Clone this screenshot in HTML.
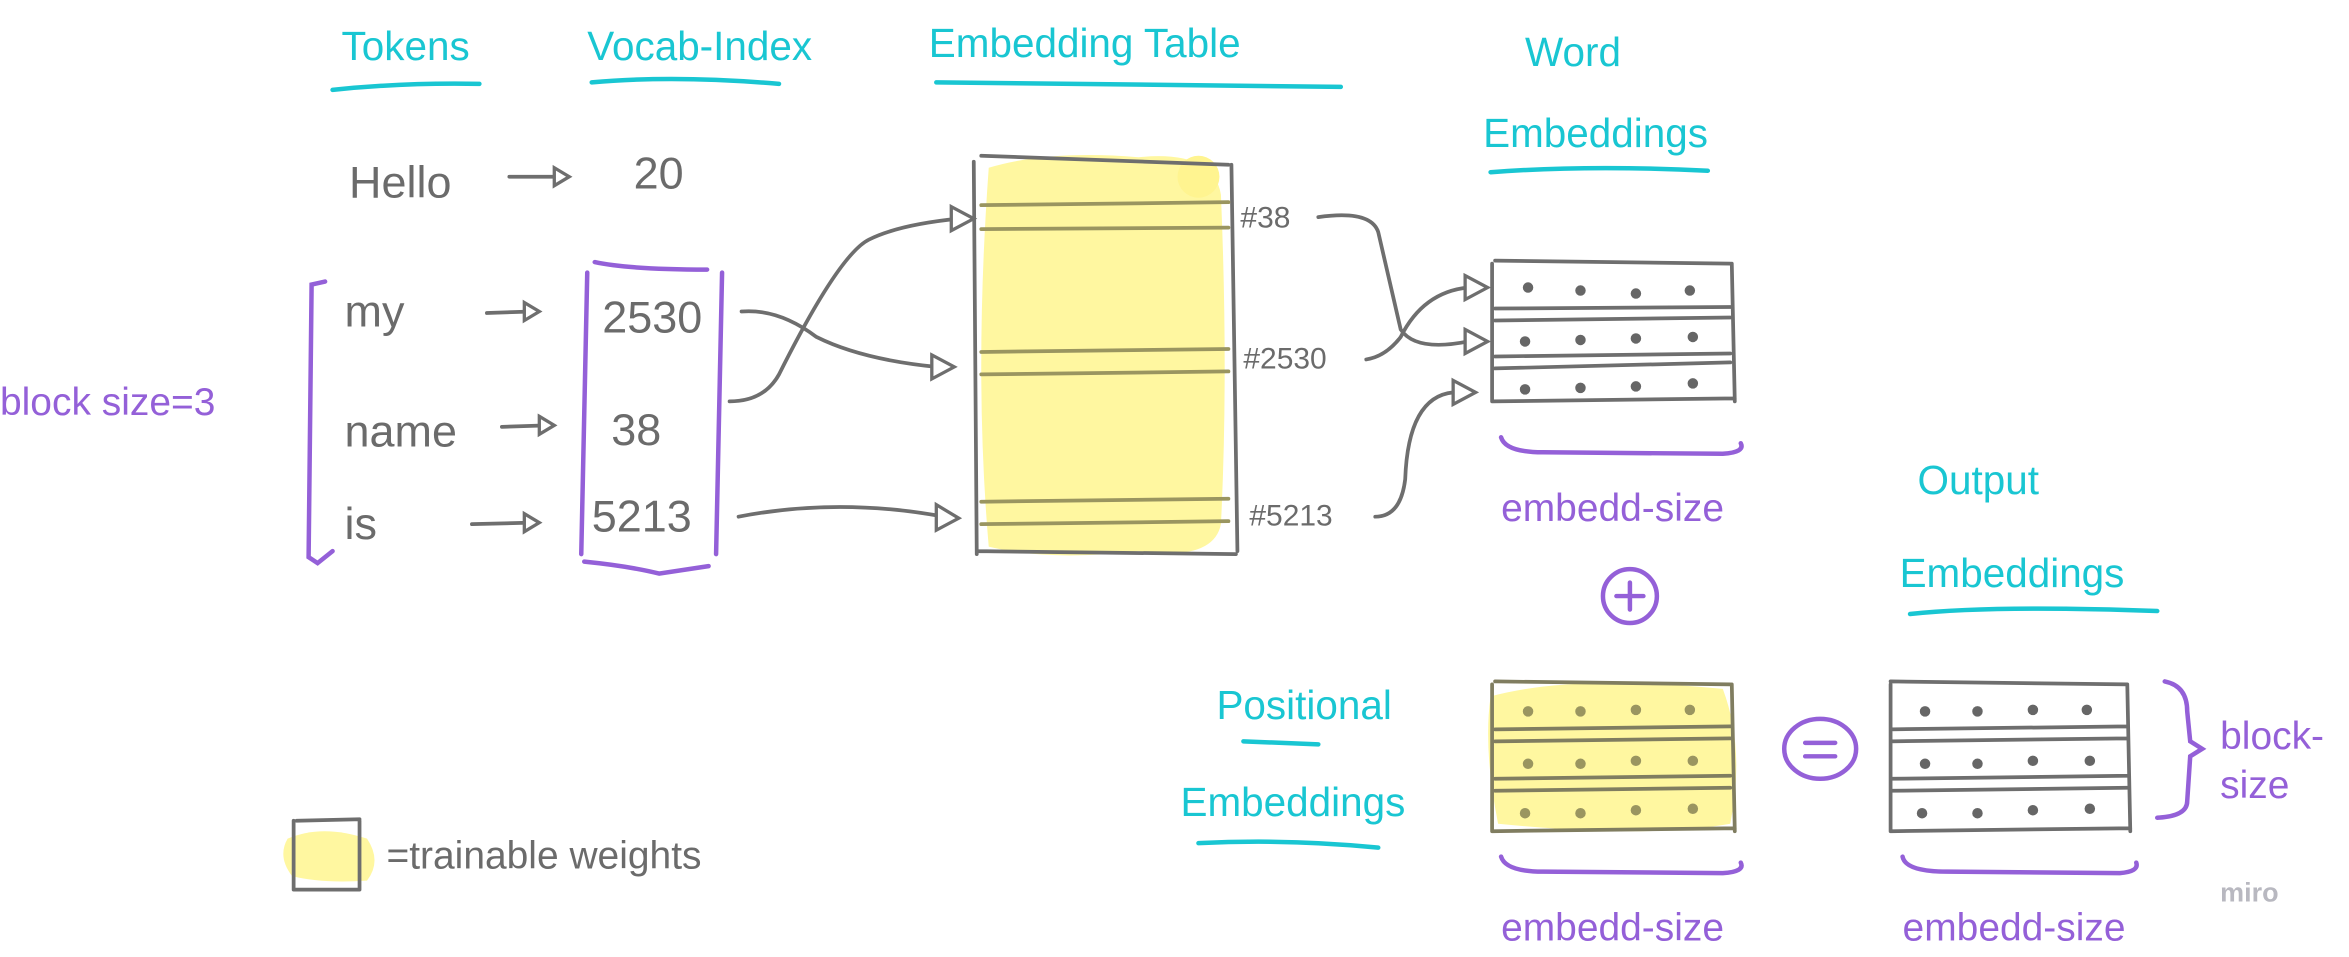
<!DOCTYPE html>
<html><head><meta charset="utf-8">
<style>
html,body{margin:0;padding:0;background:#fff;}
svg{display:block;}
text{font-family:"Liberation Sans",sans-serif;}
.c{fill:#19c6d2;font-size:27px;}
.g{fill:#6b6b6b;font-size:30px;}
.p{fill:#9460d8;font-size:26px;}
.gl{stroke:#6e6e6e;stroke-width:2.5;fill:none;stroke-linecap:round;}
.pl{stroke:#9460d8;stroke-width:3;fill:none;stroke-linecap:round;}
.cl{stroke:#19c6d2;stroke-width:3;fill:none;stroke-linecap:round;}
.y{fill:#fff7a0;}
.ah{fill:#fff;stroke:#6e6e6e;stroke-width:2.2;}
</style></head><body>
<svg width="2349" height="957" viewBox="0 0 1568 639" preserveAspectRatio="none" xmlns="http://www.w3.org/2000/svg">
<!-- headers -->
<text class="c" x="228" y="40">Tokens</text>
<path class="cl" d="M222 60 Q270 55 320 56"/>
<text class="c" x="392" y="40">Vocab-Index</text>
<path class="cl" d="M395 55 Q450 50 520 56"/>
<text class="c" x="620" y="38">Embedding Table</text>
<path class="cl" d="M625 55 L895 58"/>
<text class="c" x="1018" y="44">Word</text>
<text class="c" x="990" y="98">Embeddings</text>
<path class="cl" d="M995 115 Q1060 110 1140 114"/>
<text class="c" x="1280" y="330">Output</text>
<text class="c" x="1268" y="392">Embeddings</text>
<path class="cl" d="M1275 410 Q1330 404 1440 408"/>
<text class="c" x="812" y="480">Positional</text>
<path class="cl" d="M830 495 L880 497"/>
<text class="c" x="788" y="545">Embeddings</text>
<path class="cl" d="M800 563 Q860 560 920 566"/>

<!-- tokens -->
<text class="g" x="233" y="132">Hello</text>
<path class="gl" d="M340 118 L378 118"/><path class="ah" d="M370 112 L380 118 L370 124Z"/>
<text class="g" x="423" y="126">20</text>
<text class="g" x="230" y="218">my</text>
<path class="gl" d="M325 209 L355 208"/><path class="ah" d="M350 202 L360 208 L350 214Z"/>
<text class="g" x="230" y="298">name</text>
<path class="gl" d="M335 285 L365 284"/><path class="ah" d="M360 278 L370 284 L360 290Z"/>
<text class="g" x="230" y="360">is</text>
<path class="gl" d="M315 350 L355 349"/><path class="ah" d="M350 343 L360 349 L350 355Z"/>
<path class="pl" d="M217 188 L208 190 L206 372 L212 376 L222 368"/>
<text class="p" x="0" y="277">block size=3</text>
<!-- vocab bracket -->
<path class="pl" d="M397 175 Q420 180 472 180 M392 182 L388 370 M482 182 L478 370 M390 375 Q420 378 440 383 Q460 380 473 378"/>
<text class="g" x="402" y="222">2530</text>
<text class="g" x="408" y="297">38</text>
<text class="g" x="395" y="355">5213</text>

<!-- embedding table -->
<path class="y" d="M660 112 Q700 100 760 105 Q810 100 815 130 Q820 250 815 350 Q810 375 760 368 Q700 375 660 365 Q650 250 660 112Z"/>
<circle class="y" cx="800" cy="118" r="14" style="fill:#fff490"/>
<path class="gl" d="M655 104 L820 110 M650 108 L652 370 M822 110 L826 368 M652 368 L825 370"/>
<path class="gl" d="M655 137 L820 135 M655 153 L820 152 M655 235 L820 233 M655 250 L820 248 M655 335 L820 333 M655 350 L820 348" style="stroke:#9a9560"/>
<!-- connectors to table -->
<path class="gl" d="M487 268 Q510 268 520 250 Q560 170 580 160 Q600 150 640 146"/><path class="ah" d="M635 138 L650 146 L635 154Z"/>
<path class="gl" d="M495 208 Q520 206 545 225 Q575 240 625 245"/><path class="ah" d="M622 237 L637 245 L622 253Z"/>
<path class="gl" d="M493 345 Q560 332 630 345"/><path class="ah" d="M625 337 L640 346 L625 354Z"/>
<text class="g" x="828" y="152" style="font-size:20px">#38</text>
<text class="g" x="830" y="246" style="font-size:20px">#2530</text>
<text class="g" x="834" y="351" style="font-size:20px">#5213</text>
<!-- to word embedding -->
<path class="gl" d="M880 145 Q915 140 920 155 L935 220 Q945 235 980 228"/><path class="ah" d="M978 220 L993 228 L978 236Z"/>
<path class="gl" d="M912 240 Q925 238 935 225 Q950 195 980 192"/><path class="ah" d="M978 184 L993 192 L978 200Z"/>
<path class="gl" d="M918 345 Q935 345 938 320 Q940 265 970 262"/><path class="ah" d="M970 254 L985 262 L970 270Z"/>

<!-- word embeddings table -->
<path class="gl" d="M998 174 L1155 176 M996 176 L996 268 M1156 176 L1158 268 M996 268 L1158 266 M998 206 L1155 205 M998 214 L1155 212 M998 238 L1155 236 M998 246 L1155 242"/>
<g fill="#666">
<circle cx="1020" cy="192" r="3.5"/><circle cx="1055" cy="194" r="3.5"/><circle cx="1092" cy="196" r="3.5"/><circle cx="1128" cy="194" r="3.5"/>
<circle cx="1018" cy="228" r="3.5"/><circle cx="1055" cy="227" r="3.5"/><circle cx="1092" cy="226" r="3.5"/><circle cx="1130" cy="225" r="3.5"/>
<circle cx="1018" cy="260" r="3.5"/><circle cx="1055" cy="259" r="3.5"/><circle cx="1092" cy="258" r="3.5"/><circle cx="1130" cy="256" r="3.5"/>
</g>
<path class="pl" d="M1002 292 Q1005 302 1030 302 L1150 303 Q1165 302 1162 296"/>
<text class="p" x="1002" y="348">embedd-size</text>
<circle cx="1088" cy="398" r="18" class="pl"/><path class="pl" d="M1088 389 L1088 407 M1079 398 L1097 398"/>

<!-- positional table -->
<path class="y" d="M995 465 Q1050 450 1150 460 Q1165 500 1155 550 Q1100 560 1000 550 Q990 500 995 465Z"/>
<path class="gl" d="M998 455 L1155 457 M996 457 L996 555 M1156 457 L1158 555 M996 555 L1158 553 M998 487 L1155 485 M998 495 L1155 493 M998 520 L1155 518 M998 528 L1155 526" style="stroke:#807d60"/>
<g fill="#9a9560">
<circle cx="1020" cy="475" r="3.5"/><circle cx="1055" cy="475" r="3.5"/><circle cx="1092" cy="474" r="3.5"/><circle cx="1128" cy="474" r="3.5"/>
<circle cx="1020" cy="510" r="3.5"/><circle cx="1055" cy="510" r="3.5"/><circle cx="1092" cy="508" r="3.5"/><circle cx="1130" cy="508" r="3.5"/>
<circle cx="1018" cy="543" r="3.5"/><circle cx="1055" cy="543" r="3.5"/><circle cx="1092" cy="541" r="3.5"/><circle cx="1130" cy="540" r="3.5"/>
</g>
<path class="pl" d="M1002 572 Q1005 582 1030 582 L1150 583 Q1165 582 1162 576"/>
<text class="p" x="1002" y="628">embedd-size</text>
<ellipse cx="1215" cy="500" rx="24" ry="20" class="pl"/><path class="pl" d="M1205 496 L1225 496 M1205 505 L1225 505"/>

<!-- output table -->
<path class="gl" d="M1262 455 L1420 457 M1262 457 L1262 555 M1420 457 L1422 555 M1262 555 L1422 553 M1262 487 L1420 485 M1262 495 L1420 493 M1262 520 L1420 518 M1262 528 L1420 526"/>
<g fill="#666">
<circle cx="1285" cy="475" r="3.5"/><circle cx="1320" cy="475" r="3.5"/><circle cx="1357" cy="474" r="3.5"/><circle cx="1393" cy="474" r="3.5"/>
<circle cx="1285" cy="510" r="3.5"/><circle cx="1320" cy="510" r="3.5"/><circle cx="1357" cy="508" r="3.5"/><circle cx="1395" cy="508" r="3.5"/>
<circle cx="1283" cy="543" r="3.5"/><circle cx="1320" cy="543" r="3.5"/><circle cx="1357" cy="541" r="3.5"/><circle cx="1395" cy="540" r="3.5"/>
</g>
<path class="pl" d="M1270 572 Q1272 582 1300 582 L1415 583 Q1428 582 1426 576"/>
<text class="p" x="1270" y="628">embedd-size</text>
<path class="pl" d="M1445 455 Q1460 458 1460 475 L1462 495 L1470 500 L1462 505 L1460 535 Q1460 545 1440 546"/>
<text class="p" x="1482" y="500">block-</text>
<text class="p" x="1482" y="533">size</text>

<!-- legend -->
<path class="y" d="M192 560 Q215 550 245 560 Q255 575 245 588 Q215 590 195 585 Q185 572 192 560Z"/>
<path class="gl" d="M198 548 L240 547 M196 548 L196 594 M240 548 L240 594 M196 594 L240 594"/>
<text class="g" x="258" y="580" style="font-size:26px">=trainable weights</text>
<text x="1482" y="602" style="fill:#b8b8c0;font-size:18px;font-weight:bold">miro</text>
</svg>
</body></html>
